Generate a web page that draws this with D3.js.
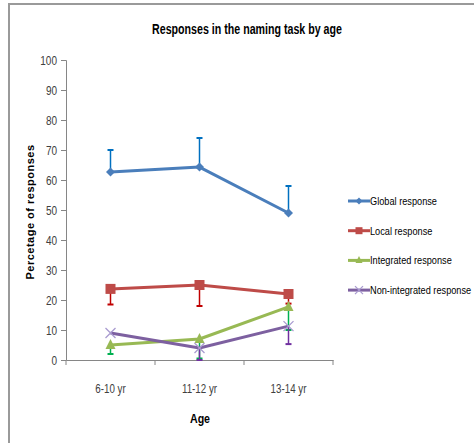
<!DOCTYPE html>
<html><head><meta charset="utf-8">
<script src="https://cdn.jsdelivr.net/npm/d3@7"></script>
<style>
body{margin:0;background:#fff;}
text{font-family:"Liberation Sans",Arial,sans-serif;font-weight:normal;}
</style></head><body>
<svg id="c" width="474" height="443"></svg>
<script>
const categories = ["6-10 yr","11-12 yr","13-14 yr"];
const seriesNames = ["Global response","Local response","Integrated response","Non-integrated response"];
const globalVals = [62.7, 64.3, 49];
const localVals = [23.7, 25, 22];
const integratedVals = [5, 7, 17.7];
const nonIntegratedVals = [9, 4, 11.3];
// error bar ends (upper for global, lower for others)
const globalErr = [70, 74, 58];
const localErr = [18.5, 18, 18.8];
const integratedErr = [2, 0.5, 10];
const nonIntegratedErr = [9, 0, 5.3];
const yTicks = [0,10,20,30,40,50,60,70,80,90,100];

const colors = ["#4a7ebb","#be4b48","#98b954","#7d60a0"];
const errColors = ["#0070c0","#c00000","#00b050","#7030a0"];
const markers = ["diamond","square","triangle","x"];
const vals = [globalVals, localVals, integratedVals, nonIntegratedVals];
const errs = [globalErr, localErr, integratedErr, nonIntegratedErr];

function condense(sel, f){
  sel.each(function(){
    const w = this.getComputedTextLength();
    d3.select(this).attr("textLength", w*f).attr("lengthAdjust","spacingAndGlyphs");
  });
}

const svg = d3.select("#c");
svg.append("rect").attr("x",9).attr("y",4).attr("width",480).attr("height",460)
  .attr("fill","none").attr("stroke","#9a9a9a").attr("stroke-width",2);

const x = d3.scaleBand().domain(categories).range([66,333]);
const y = d3.scaleLinear().domain([0,100]).range([360,60]);

const title = svg.append("text").attr("x",247).attr("y",34).attr("text-anchor","middle")
  .attr("font-size",14).style("font-weight","bold").attr("fill","#000").text("Responses in the naming task by age");
condense(title, 0.76);

const ya = svg.append("g").attr("transform","translate(66,0)")
  .call(d3.axisLeft(y).tickValues(yTicks).tickSize(5).tickPadding(4));
ya.selectAll("path,line").attr("stroke","#868686");
ya.selectAll("text").attr("font-size",12.5).attr("fill","#404040");
condense(ya.selectAll("text"), 0.8);

const xa = svg.append("g").attr("transform","translate(0,360)")
  .call(d3.axisBottom(x).tickSize(0).tickPadding(24));
xa.select("path").attr("stroke","#868686");
xa.selectAll("text").attr("font-size",12.5).attr("fill","#404040");
condense(xa.selectAll("text"), 0.78);
const bounds = categories.map(c=>x(c)).concat([x.range()[1]]);
xa.selectAll("line.b").data(bounds).enter().append("line")
  .attr("x1",d=>d).attr("x2",d=>d).attr("y1",0).attr("y2",5).attr("stroke","#868686");

const age = svg.append("text").attr("x",200).attr("y",423).attr("text-anchor","middle")
  .attr("font-size",12.5).style("font-weight","bold").text("Age");
condense(age, 0.85);
svg.append("text").attr("transform","translate(34,212) rotate(-90)").attr("text-anchor","middle")
  .attr("font-size",11).style("font-weight","bold").attr("letter-spacing",0.5)
  .text("Percetage of responses");

const cx = c => x(c) + x.bandwidth()/2;

function drawMarker(g, type, px, py, col, s){
  if(type==="diamond"){
    g.append("path").attr("d",`M${px},${py-s}L${px+s},${py}L${px},${py+s}L${px-s},${py}Z`).attr("fill",col);
  } else if(type==="square"){
    g.append("rect").attr("x",px-s).attr("y",py-s).attr("width",2*s).attr("height",2*s).attr("fill",col);
  } else if(type==="triangle"){
    g.append("path").attr("d",`M${px},${py-s-1}L${px+s},${py+s-1}L${px-s},${py+s-1}Z`).attr("fill",col);
  } else {
    g.append("path").attr("d",`M${px-s},${py-s}L${px+s},${py+s}M${px+s},${py-s}L${px-s},${py+s}`)
      .attr("stroke",col).attr("stroke-width",1.3).attr("fill","none");
  }
}
const msize = [4.5,5,5,5];

vals.forEach((v,i)=>{
  const g = svg.append("g");
  v.forEach((d,j)=>{
    const e = errs[i][j];
    if(Math.abs(e-d)<0.01) return;
    const px = cx(categories[j]);
    g.append("line").attr("x1",px).attr("x2",px).attr("y1",y(d)).attr("y2",y(e))
      .attr("stroke",errColors[i]).attr("stroke-width",1.5);
    g.append("line").attr("x1",px-3).attr("x2",px+3).attr("y1",y(e)).attr("y2",y(e))
      .attr("stroke",errColors[i]).attr("stroke-width",2);
  });
});
vals.forEach((v,i)=>{
  const g = svg.append("g");
  const line = d3.line().x((d,j)=>cx(categories[j])).y(d=>y(d));
  g.append("path").datum(v).attr("d",line).attr("fill","none")
    .attr("stroke",colors[i]).attr("stroke-width",3).attr("stroke-linejoin","round");
  v.forEach((d,j)=>drawMarker(g, markers[i], cx(categories[j]), y(d), i===3?"#a99bd0":colors[i], msize[i]));
});

const leg = svg.append("g");
seriesNames.forEach((n,i)=>{
  const ly = 201 + i*29.7;
  leg.append("line").attr("x1",348).attr("x2",370).attr("y1",ly).attr("y2",ly)
    .attr("stroke",colors[i]).attr("stroke-width",3);
  drawMarker(leg, markers[i], 359, ly, i===3?"#a99bd0":colors[i], i===3?4:3.5);
  leg.append("g").attr("transform",`translate(370,${ly+4}) scale(0.8,1)`)
    .append("text").attr("x",0).attr("y",0).attr("font-size",11.5).attr("fill","#000").text(n);
});
</script></body></html>
